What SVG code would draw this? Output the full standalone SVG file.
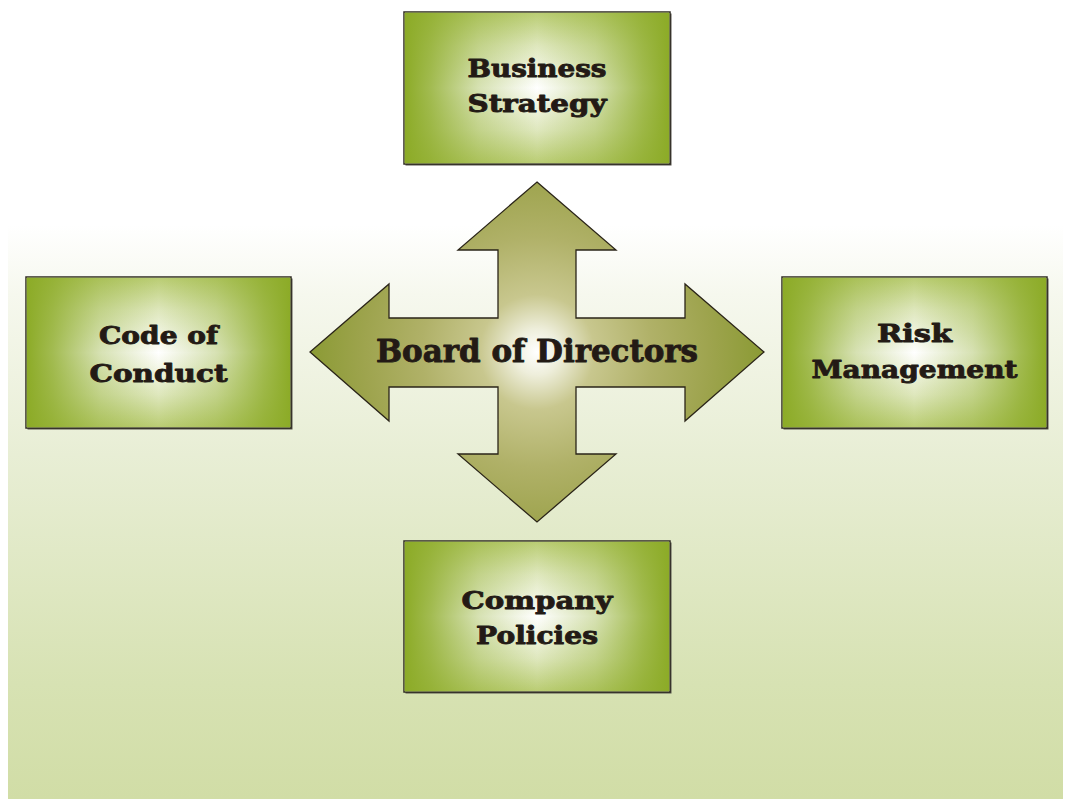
<svg xmlns="http://www.w3.org/2000/svg" width="1071" height="799" viewBox="0 0 1071 799">
  <defs>
    <linearGradient id="bg" x1="0" y1="225" x2="0" y2="799" gradientUnits="userSpaceOnUse">
      <stop offset="0" stop-color="#ffffff"/>
      <stop offset="0.12" stop-color="#f6f8ee"/>
      <stop offset="0.4" stop-color="#e8eed5"/>
      <stop offset="0.8" stop-color="#d7e2b3"/>
      <stop offset="1" stop-color="#d1dda6"/>
    </linearGradient>
    <linearGradient id="boxH" x1="0" y1="0" x2="1" y2="0">
      <stop offset="0" stop-color="#8cab27" stop-opacity="1"/>
      <stop offset="0.1" stop-color="#8cab27" stop-opacity="0.8"/>
      <stop offset="0.28" stop-color="#8cab27" stop-opacity="0.35"/>
      <stop offset="0.5" stop-color="#8cab27" stop-opacity="0"/>
      <stop offset="0.72" stop-color="#8cab27" stop-opacity="0.35"/>
      <stop offset="0.9" stop-color="#8cab27" stop-opacity="0.8"/>
      <stop offset="1" stop-color="#8cab27" stop-opacity="1"/>
    </linearGradient>
    <linearGradient id="boxV" x1="0" y1="0" x2="0" y2="1">
      <stop offset="0" stop-color="#a3bc45" stop-opacity="0.75"/>
      <stop offset="0.22" stop-color="#a3bc45" stop-opacity="0.35"/>
      <stop offset="0.5" stop-color="#a3bc45" stop-opacity="0"/>
      <stop offset="0.78" stop-color="#a3bc45" stop-opacity="0.35"/>
      <stop offset="1" stop-color="#a3bc45" stop-opacity="0.75"/>
    </linearGradient>
    <radialGradient id="cross" cx="537" cy="352" r="230" gradientUnits="userSpaceOnUse">
      <stop offset="0" stop-color="#ffffff"/>
      <stop offset="0.1" stop-color="#eeeedb"/>
      <stop offset="0.25" stop-color="#c8c78e"/>
      <stop offset="0.5" stop-color="#b0b168"/>
      <stop offset="0.75" stop-color="#9ea44e"/>
      <stop offset="1" stop-color="#8a9a33"/>
    </radialGradient>
  </defs>
  <style>
    .box { fill: #ffffff; stroke: #2e2a22; stroke-width: 1.5; }
    .ov { stroke: none; }
    .shadow { fill: #55524a; }
    .lbl { font-family: "DejaVu Serif", "Liberation Serif", serif; font-weight: bold; fill: #231a15; stroke: #231a15; stroke-width: 0.9; stroke-linejoin: round; text-anchor: middle; }
    .big { font-size: 31px; }
    .small { font-size: 25px; }
  </style>

  <rect x="0" y="0" width="1071" height="799" fill="#ffffff"/>
  <rect x="8" y="225" width="1055" height="574" fill="url(#bg)"/>

  <g id="connectors"/>

  <g id="board-of-directors">
    <path d="M537,182 L616,250 L576,250 L576,318 L685,318 L685,284 L764,352 L685,421 L685,387 L576,387 L576,454 L616,454 L537,522 L458,454 L498,454 L498,387 L389,387 L389,421 L310,352 L389,284 L389,318 L498,318 L498,250 L458,250 Z" fill="url(#cross)" stroke="#2a2418" stroke-width="1.3" stroke-linejoin="miter"/>
    <text class="lbl big" x="537" y="362" textLength="322" lengthAdjust="spacingAndGlyphs">Board of Directors</text>
  </g>

  <g id="business-strategy">
    <rect class="shadow" x="405.5" y="13.5" width="266" height="152"/>
    <rect class="box" x="404" y="12" width="266" height="152"/>
    <rect class="ov" x="404.75" y="12.75" width="264.5" height="150.5" fill="url(#boxV)"/>
    <rect class="ov" x="404.75" y="12.75" width="264.5" height="150.5" fill="url(#boxH)"/>
    <text class="lbl small" x="537" y="77" textLength="139" lengthAdjust="spacingAndGlyphs">Business</text>
    <text class="lbl small" x="537" y="112" textLength="139" lengthAdjust="spacingAndGlyphs">Strategy</text>
  </g>

  <g id="code-of-conduct">
    <rect class="shadow" x="27.5" y="278.5" width="265" height="151"/>
    <rect class="box" x="26" y="277" width="265" height="151"/>
    <rect class="ov" x="26.75" y="277.75" width="263.5" height="149.5" fill="url(#boxV)"/>
    <rect class="ov" x="26.75" y="277.75" width="263.5" height="149.5" fill="url(#boxH)"/>
    <text class="lbl small" x="158.5" y="344" textLength="119" lengthAdjust="spacingAndGlyphs">Code of</text>
    <text class="lbl small" x="158.5" y="382" textLength="138" lengthAdjust="spacingAndGlyphs">Conduct</text>
  </g>

  <g id="risk-management">
    <rect class="shadow" x="783.5" y="278.5" width="265" height="151"/>
    <rect class="box" x="782" y="277" width="265" height="151"/>
    <rect class="ov" x="782.75" y="277.75" width="263.5" height="149.5" fill="url(#boxV)"/>
    <rect class="ov" x="782.75" y="277.75" width="263.5" height="149.5" fill="url(#boxH)"/>
    <text class="lbl small" x="914.5" y="342" textLength="75" lengthAdjust="spacingAndGlyphs">Risk</text>
    <text class="lbl small" x="914.5" y="378" textLength="206" lengthAdjust="spacingAndGlyphs">Management</text>
  </g>

  <g id="company-policies">
    <rect class="shadow" x="405.5" y="542.5" width="266" height="151"/>
    <rect class="box" x="404" y="541" width="266" height="151"/>
    <rect class="ov" x="404.75" y="541.75" width="264.5" height="149.5" fill="url(#boxV)"/>
    <rect class="ov" x="404.75" y="541.75" width="264.5" height="149.5" fill="url(#boxH)"/>
    <text class="lbl small" x="537" y="609" textLength="151" lengthAdjust="spacingAndGlyphs">Company</text>
    <text class="lbl small" x="537" y="644" textLength="122" lengthAdjust="spacingAndGlyphs">Policies</text>
  </g>
</svg>
